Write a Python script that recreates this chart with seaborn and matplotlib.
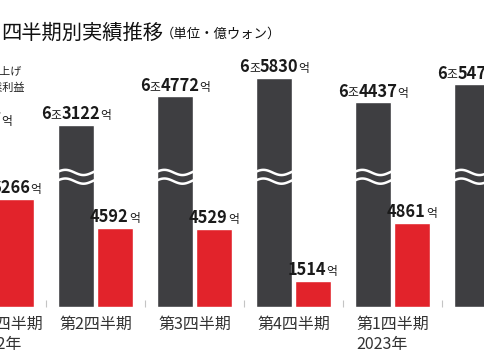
import numpy as np
import pandas as pd
import seaborn as sns
import matplotlib
matplotlib.use("Agg")
import matplotlib.pyplot as plt
import matplotlib.transforms as mtransforms
from matplotlib.offsetbox import TextArea, HPacker, AnnotationBbox

# quarterly results, unit: 億ウォン
quarter_keys = ['22Q1', '22Q2', '22Q3', '22Q4', '23Q1', '23Q2']
tick_labels = ['第1四半期\n2022年', '第2四半期', '第3四半期', '第4四半期',
               '第1四半期\n2023年', '第2四半期']
revenue = [62777, 63122, 64772, 65830, 64437, 65475]
op_profit = [6266, 4592, 4529, 1514, 4861, 5761]
series = ['売上げ', '営業利益']

BREAK = 52600  # revenue bars are drawn on a broken axis above this value

sns.set_theme(style="white")
plt.rcParams['font.family'] = ['Noto Sans CJK JP', 'DejaVu Sans']
KR = ['Noto Sans CJK KR', 'DejaVu Sans']

df = pd.DataFrame({
    'quarter': quarter_keys * 2,
    'series': [series[0]] * 6 + [series[1]] * 6,
    'value': revenue + op_profit,
})
df['height'] = np.where(df['series'] == series[0], df['value'] - BREAK, df['value'])

fig = plt.figure(figsize=(4.85, 3.6), dpi=100)
ax = fig.add_axes([0, 0.147, 1, 0.853])
sns.barplot(data=df, x='quarter', y='height', hue='series', order=quarter_keys,
            hue_order=series, palette=['#3e3e41', '#e2232b'], saturation=1,
            width=0.78, gap=0.07, legend=False, ax=ax)

# wavy break marks on revenue bars
t = np.linspace(0, 1, 80)
for bar in ax.containers[0]:
    x0, w = bar.get_x(), bar.get_width()
    for yc in (7780, 7280):
        ln, = ax.plot(x0 - 0.02 + t * (w + 0.04), yc + 150 * np.sin(2 * np.pi * 1.1 * t),
                      color='white', lw=1.8)
        ln.set_clip_path(bar)


def value_label(x, y, parts):
    kids = []
    for txt, big in parts:
        props = dict(fontsize=11.8 if big else 8.5, fontweight='bold' if big else 'normal',
                     color='#1a1a1a', family=KR)
        kids.append(TextArea(txt, textprops=props))
    box = HPacker(children=kids, align='baseline', pad=0, sep=0)
    ab = AnnotationBbox(box, (x, y), xybox=(0, 1.2), xycoords='data',
                        boxcoords='offset points', box_alignment=(0.5, 0),
                        frameon=False, pad=0, annotation_clip=False)
    ax.add_artist(ab)


for bar, v in zip(ax.containers[0], revenue):
    value_label(bar.get_x() + bar.get_width() / 2, bar.get_height(),
                [(str(v // 10000), True), ('조', False), (f'{v % 10000:04d}', True), ('억', False)])
for bar, v in zip(ax.containers[1], op_profit):
    value_label(bar.get_x() + bar.get_width() / 2, bar.get_height(),
                [(str(v), True), ('억', False)])

label_props = dict(fontsize=11.5, color='#333333', multialignment='left',
                   linespacing=1.3, va='top')
# small hand-placed shifts of the quarter labels (pixels)
label_shift = [10, 3.5, -1.5, -6.5, 2.5, 0]

ax.set_xticks(range(6))
ax.set_xticklabels(tick_labels, **label_props)
for lab, dx in zip(ax.get_xticklabels(), label_shift):
    lab.set_transform(lab.get_transform() + mtransforms.ScaledTranslation(dx / 100, 0, fig.dpi_scale_trans))
# the first tick sits just outside the view, so its label is placed by hand
first = ax.text(0, 0, tick_labels[0], ha='center', clip_on=False,
                transform=ax.get_xaxis_transform() + mtransforms.ScaledTranslation(
                    label_shift[0] / 100, -6 / 72, fig.dpi_scale_trans), **label_props)

ax.set_xticks([i + 0.5 for i in range(5)], minor=True)
ax.tick_params(axis='x', which='major', length=0, pad=6)
ax.tick_params(axis='x', which='minor', direction='in', length=5, width=0.8,
               color='#c4c4c4', bottom=True)
ax.set_yticks([])
ax.set_xlabel('')
ax.set_ylabel('')
for s in ax.spines.values():
    s.set_visible(False)
ax.set_xlim(0.035, 4.934)
ax.set_ylim(0, 17746)

# title and (cropped) legend text
fig.text(0.002, 1 - 33 / 360, '四半期別実績推移', fontsize=14.6, va='center', color='#111111')
fig.text(161 / 485, 1 - 34 / 360, '（単位・億ウォン）', fontsize=9.6, va='center', color='#111111')
fig.text(22 / 485, 1 - 72 / 360, '売上げ', fontsize=8, ha='right', va='center', color='#222222')
fig.text(25 / 485, 1 - 88 / 360, '営業利益', fontsize=8, ha='right', va='center', color='#222222')

fig.savefig('out.png', dpi=100)
